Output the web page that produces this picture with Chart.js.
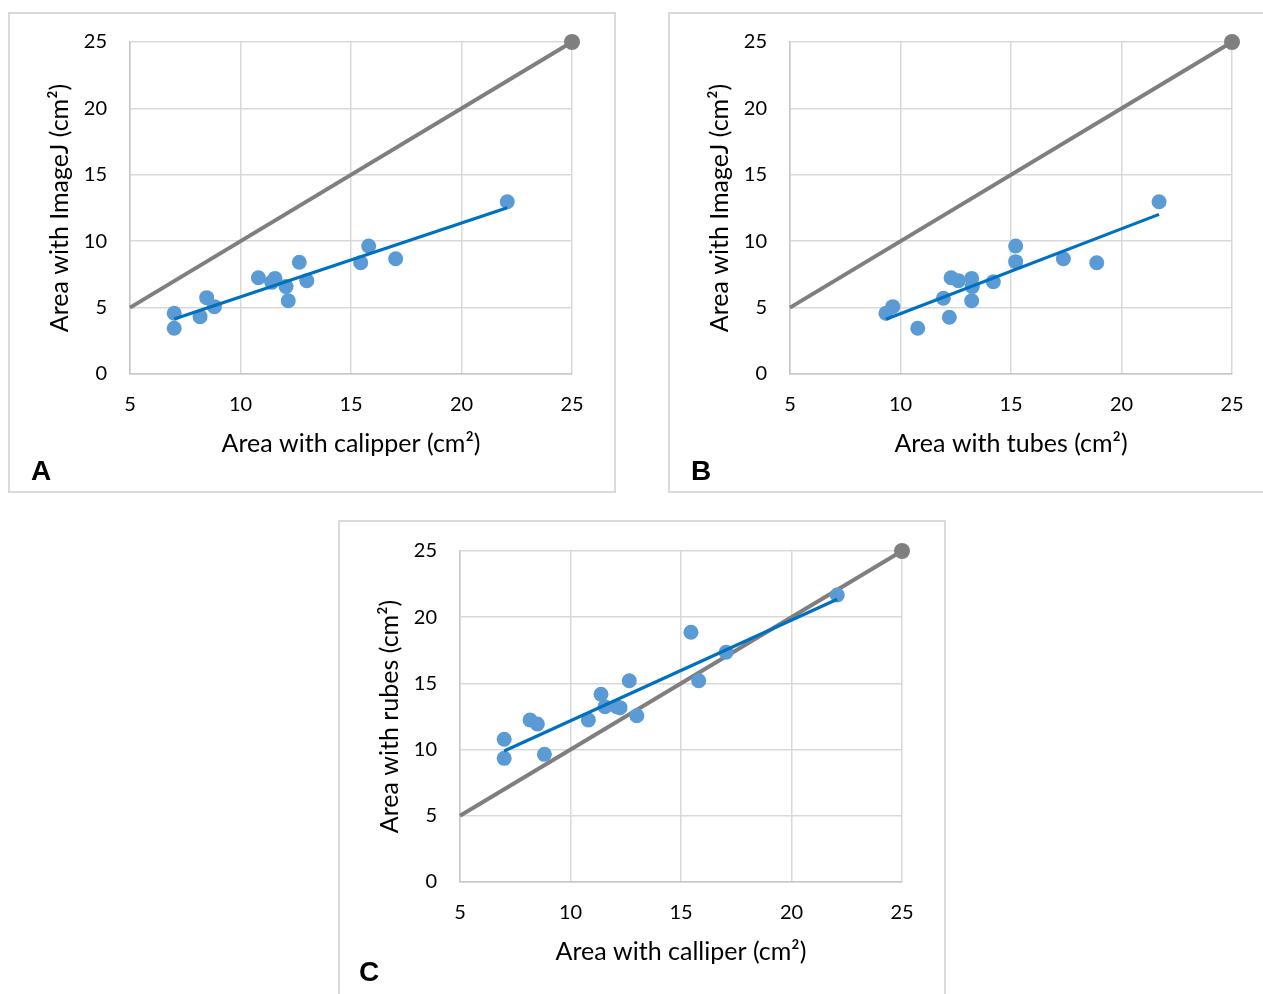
<!DOCTYPE html>
<html>
<head>
<meta charset="utf-8">
<script src="https://cdn.jsdelivr.net/npm/chart.js@4.4.0/dist/chart.umd.min.js"></script>
<style>
  html, body { margin: 0; padding: 0; background: #fff; width: 1263px; height: 994px; overflow: hidden; }
  .panel { position: absolute; box-shadow: inset 0 0 0 2px #d9d9d9; }
  .panel canvas { position: absolute; left: 0; top: 0; }
  .tag { position: absolute; font: bold 28px "Liberation Sans", Arial, sans-serif; line-height: 28px; color: #000; }
</style>
</head>
<body>
<div class="panel" id="panel-a" style="left:8px;top:12px;width:608px;height:481px"><canvas id="chart-a" width="608" height="481"></canvas></div>
<div class="panel" id="panel-b" style="left:668px;top:12px;width:608px;height:481px"><canvas id="chart-b" width="608" height="481"></canvas></div>
<div class="panel" id="panel-c" style="left:338px;top:520px;width:608px;height:481px"><canvas id="chart-c" width="608" height="481"></canvas></div>
<div class="tag" style="left:31px;top:457px">A</div>
<div class="tag" style="left:691px;top:457px">B</div>
<div class="tag" style="left:359px;top:958px">C</div>

<script>
// calliper vs ImageJ (panel A)
const calliperA = [7.0, 7.0, 8.17, 8.47, 8.82, 10.81, 11.41, 11.56, 12.06, 12.16, 12.66, 13.0, 15.44, 15.8, 17.02, 22.07];
const imagejA   = [4.57, 3.44, 4.32, 5.75, 5.07, 7.25, 6.9, 7.2, 6.58, 5.52, 8.41, 7.03, 8.38, 9.64, 8.68, 12.97];
const trendAX = [7.0, 22.07];
const trendAY = [4.14, 12.52];

// tubes vs ImageJ (panel B)
const tubesB  = [9.34, 9.65, 10.78, 11.94, 12.21, 12.29, 12.62, 13.22, 13.25, 13.22, 14.2, 15.21, 15.21, 17.37, 18.88, 21.7];
const imagejB = [4.57, 5.07, 3.44, 5.7, 4.27, 7.25, 7.03, 7.2, 6.58, 5.52, 6.95, 9.64, 8.46, 8.68, 8.38, 12.97];
const trendBX = [9.34, 21.7];
const trendBY = [4.12, 12.02];

// calliper vs tubes (panel C)
const calliperC = [7.0, 7.0, 8.17, 8.5, 8.82, 10.81, 11.38, 11.56, 12.09, 12.24, 12.66, 13.0, 15.45, 15.8, 17.04, 22.07];
const tubesC    = [10.78, 9.34, 12.24, 11.93, 9.64, 12.24, 14.18, 13.24, 13.24, 13.17, 15.2, 12.56, 18.86, 15.2, 17.35, 21.68];
const trendCX = [7.0, 22.07];
const trendCY = [9.9, 21.35];

// 1:1 reference line
const identityX = [5, 25];
const identityY = [5, 25];

const X_TICK_MIN = 5, X_TICK_MAX = 25, Y_TICK_MIN = 0, Y_TICK_MAX = 25, TICK_STEP = 5;

const FONT = 'Lato, "Open Sans", sans-serif';
const toPts = (xs, ys) => xs.map((x, i) => ({ x: x, y: ys[i] }));

function makeChart(id, xs, ys, tx, ty, xTitle, yTitle, topPad){
    const ctx = document.getElementById(id).getContext('2d');
    return new Chart(ctx, {
        type: 'scatter',
        data: {
            datasets: [
                { data: toPts(tx, ty), showLine: true, borderColor: '#0070C0', borderWidth: 3.2, pointRadius: 0, order: 0 },
                { data: toPts(xs, ys), backgroundColor: '#5B9BD5', pointBackgroundColor: '#5B9BD5', pointBorderWidth: 0, pointRadius: 7.5, order: 1 },
                { data: toPts(identityX, identityY), showLine: true, borderColor: '#7F7F7F', borderWidth: 4,
                  pointRadius: [0, 8], pointBackgroundColor: '#7F7F7F', pointBorderWidth: 0, clip: false, order: 2 }
            ]
        },
        options: {
            responsive: false, animation: false, events: [],
            layout: { padding: { left: 0, top: topPad, right: 44, bottom: 0 } },
            plugins: { legend: { display: false }, tooltip: { enabled: false } },
            scales: {
                x: {
                    type: 'linear', min: X_TICK_MIN, max: X_TICK_MAX,
                    ticks: { stepSize: TICK_STEP, padding: 19, color: '#000', font: { family: FONT, size: 20 } },
                    grid: { color: '#d9d9d9', lineWidth: 1.5, drawTicks: false },
                    border: { color: '#c8c8c8', width: 1.5 },
                    title: { display: true, text: xTitle, color: '#000', font: { family: FONT, size: 25, lineHeight: 1.2 }, padding: { top: 0, bottom: 34 } },
                    afterFit: s => { s.height = 119; s.paddingLeft = 0; s.paddingRight = 0; }
                },
                y: {
                    type: 'linear', min: Y_TICK_MIN, max: Y_TICK_MAX,
                    ticks: { stepSize: TICK_STEP, padding: 23, color: '#000', font: { family: FONT, size: 20 } },
                    grid: { color: '#d9d9d9', lineWidth: 1.5, drawTicks: false },
                    border: { color: '#c8c8c8', width: 1.5 },
                    title: { display: true, text: yTitle, color: '#000', font: { family: FONT, size: 25, lineHeight: 1.2 }, padding: { top: 37, bottom: 0 } },
                    afterFit: s => { s.width = 122; s.paddingTop = 0; s.paddingBottom = 0; }
                }
            }
        }
    });
}

makeChart('chart-a', calliperA, imagejA, trendAX, trendAY, 'Area with calipper (cm²)', 'Area with ImageJ (cm²)', 30);
makeChart('chart-b', tubesB, imagejB, trendBX, trendBY, 'Area with tubes (cm²)', 'Area with ImageJ (cm²)', 30);
makeChart('chart-c', calliperC, tubesC, trendCX, trendCY, 'Area with calliper (cm²)', 'Area with rubes (cm²)', 31);
</script>
</body>
</html>
